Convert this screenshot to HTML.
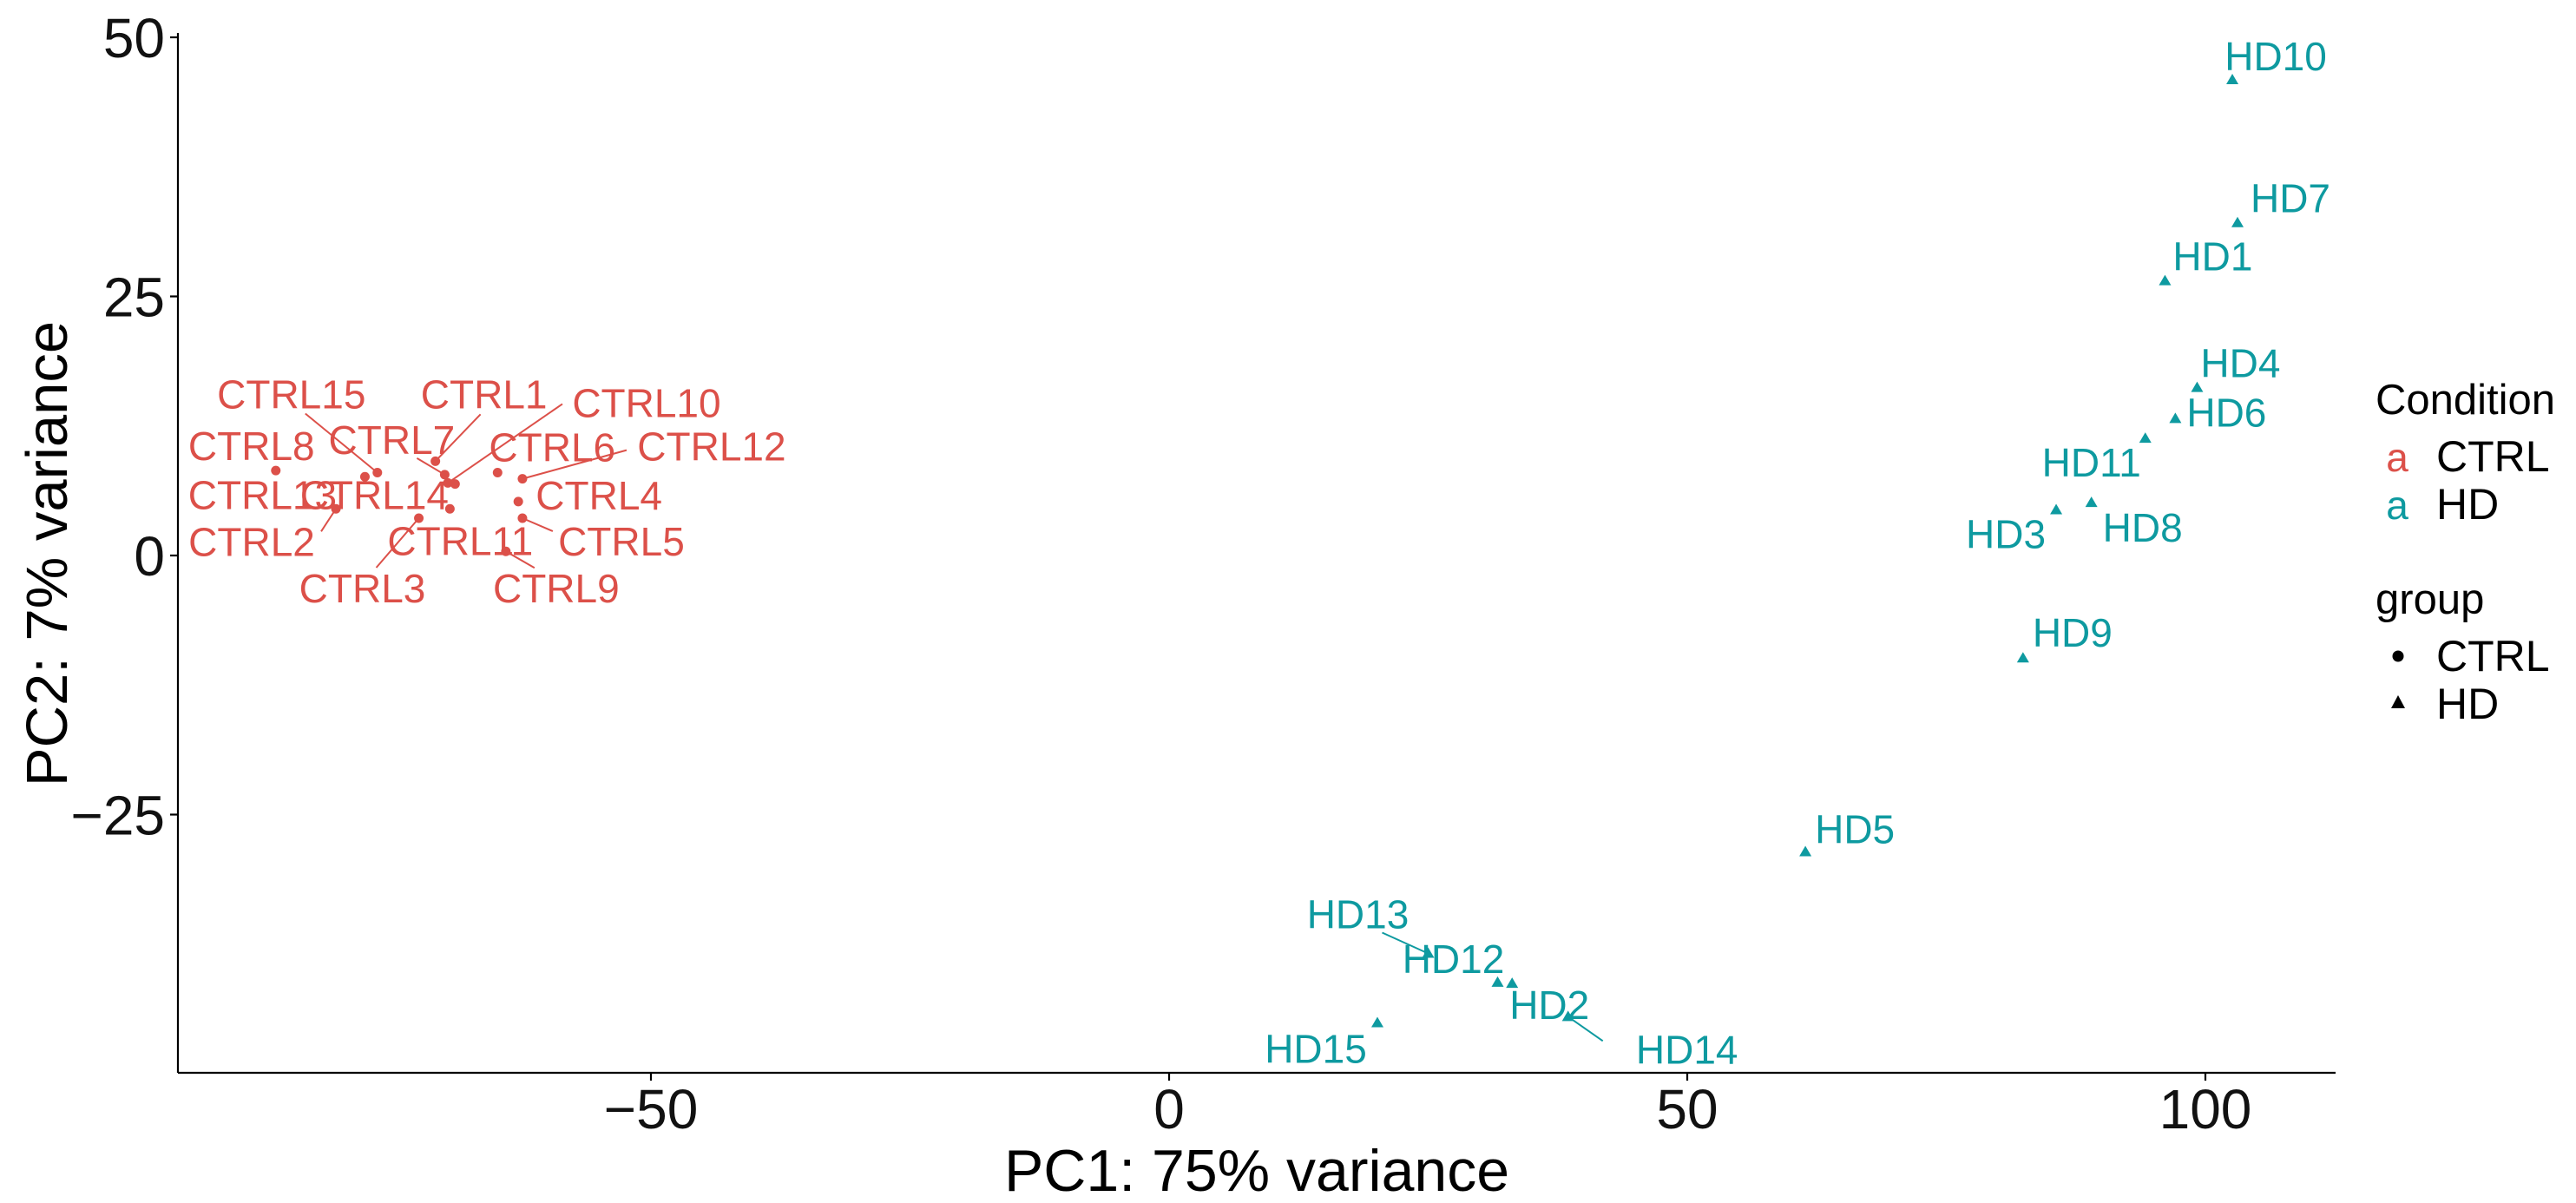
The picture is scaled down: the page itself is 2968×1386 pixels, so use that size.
<!DOCTYPE html>
<html><head><meta charset="utf-8">
<style>
html,body{margin:0;padding:0;background:#fff;}
svg{display:block;font-family:"Liberation Sans",Arial,sans-serif;}
</style></head>
<body>
<svg id="chart" width="2968" height="1386" viewBox="0 0 2968 1386" xmlns="http://www.w3.org/2000/svg">
  <rect width="2968" height="1386" fill="#fff"/>
  <g id="plot"></g>
  <g id="axes"></g>
  <text x="1448" y="1372" font-size="68" text-anchor="middle" fill="#000">PC1: 75% variance</text>
  <text x="0" y="0" font-size="67" text-anchor="middle" fill="#000" transform="translate(77,638) rotate(-90)">PC2: 7% variance</text>
  <g>
    <text x="2737" y="477" font-size="49" fill="#000">Condition</text>
    <text x="2762" y="543" font-size="46" text-anchor="middle" fill="#DC5049">a</text>
    <text x="2807" y="543" font-size="50" fill="#000">CTRL</text>
    <text x="2762" y="598" font-size="46" text-anchor="middle" fill="#0E9AA0">a</text>
    <text x="2807" y="598" font-size="50" fill="#000">HD</text>
  </g>
  <g>
    <text x="2737" y="707" font-size="49" fill="#000">group</text>
    <circle cx="2763" cy="756" r="6.5" fill="#000"/>
    <text x="2807" y="773" font-size="50" fill="#000">CTRL</text>
    <polygon points="2763,801 2771,816 2755,816" fill="#000"/>
    <text x="2807" y="828" font-size="50" fill="#000">HD</text>
  </g>
</svg>
<script>
// ---- data ----
const ctrlNames = ["CTRL1","CTRL2","CTRL3","CTRL4","CTRL5","CTRL6","CTRL7","CTRL8","CTRL9","CTRL10","CTRL11","CTRL12","CTRL13","CTRL14","CTRL15"];
const ctrlPC1 = [-70.8,-80.4,-72.4,-62.8,-62.4,-64.8,-69.9,-86.2,-64.0,-69.6,-68.9,-62.4,-77.6,-69.4,-76.4];
const ctrlPC2 = [9.1,4.5,3.6,5.2,3.6,8.0,7.8,8.2,0.4,7.0,6.9,7.4,7.6,4.5,8.0];
const hdNames = ["HD1","HD2","HD3","HD4","HD5","HD6","HD7","HD8","HD9","HD10","HD11","HD12","HD13","HD14","HD15"];
const hdPC1 = [96.1,33.1,85.6,99.2,61.4,97.1,103.1,89.0,82.4,102.6,94.2,31.7,25.0,38.5,20.1];
const hdPC2 = [26.5,-41.3,4.4,16.2,-28.6,13.2,32.1,5.1,-9.9,45.9,11.3,-41.2,-38.4,-44.5,-45.1];
const xTicks = [-50,0,50,100];
const yTicks = [-25,0,25,50];
const xTickLabels = ["\u221250","0","50","100"];
const yTickLabels = ["\u221225","0","25","50"];

// ---- label layout (pixel offsets from point, repel-style) ----
const ctrlLabelDx = [56,-97,-65,93,114,63,-61,-28,58,229,6,218,-118,-87,-99];
const ctrlLabelDy = [-61,54,97,9,43,-13,-24,-12,59,-76,82,-21,37,0,-74];
const ctrlSegDx = [52,-17,-49,0,35,0,-32,0,33,132,0,120,0,0,-83];
const ctrlSegDy = [-54,26,57,0,15,0,-19,0,19,-91,0,-33,0,0,-68];
const hdLabelDx = [55,43,-58,50,57,59,61,59,57,50,-62,-51,-81,137,-71];
const hdLabelDy = [-12,41,44,-12,-10,9,-12,45,-13,-11,44,-11,-29,54,46];
const hdSegDx = [0,0,0,0,0,0,0,0,0,0,0,0,-53,40,0];
const hdSegDy = [0,0,0,0,0,0,0,0,0,0,0,0,-24,28,0];

// ---- scales ----
const X0 = 1347, Y0 = 640, K = 11.94;
function sx(v){ return X0 + v*K; }
function sy(v){ return Y0 - v*K; }
const L = 205, R = 2691, T = 38, B = 1236;

const NS = "http://www.w3.org/2000/svg";
const plot = document.getElementById('plot');
const axes = document.getElementById('axes');
function mk(tag, attrs, parent){
  const e = document.createElementNS(NS, tag);
  for (const k in attrs) e.setAttribute(k, attrs[k]);
  parent.appendChild(e);
  return e;
}
const RED = "#DC5049", TEAL = "#0E9AA0";

// axes
let ax = mk('line', {x1:L, y1:B, x2:R, y2:B, stroke:"#000", "stroke-width":2.2}, axes);


let ay = mk('line', {x1:L, y1:T, x2:L, y2:B, stroke:"#000", "stroke-width":2.2}, axes);


xTicks.forEach((v,i)=>{
  const t = mk('line', {x1:sx(v), y1:B, x2:sx(v), y2:B+9, stroke:"#000", "stroke-width":2.2}, axes);
  
  
  const tx = mk('text', {x:sx(v), y:1300, "font-size":64, "text-anchor":"middle", fill:"#111"}, axes);
  
  
  tx.textContent = xTickLabels[i];
});
yTicks.forEach((v,i)=>{
  const t = mk('line', {x1:L-9, y1:sy(v), x2:L, y2:sy(v), stroke:"#000", "stroke-width":2.2}, axes);
  
  
  const tx = mk('text', {x:190, y:sy(v)+23, "font-size":64, "text-anchor":"end", fill:"#111"}, axes);
  
  
  tx.textContent = yTickLabels[i];
});

// points
function drawGroup(names, xs, ys, ldx, ldy, sdx, sdy, color, shape){
  names.forEach((n,i)=>{
    const px = sx(xs[i]), py = sy(ys[i]);
    if (sdx[i] !== 0 || sdy[i] !== 0){
      const s = mk('line', {x1:px, y1:py, x2:px+sdx[i], y2:py+sdy[i], stroke:color, "stroke-width":2}, plot);
      
      
    }
    let m;
    if (shape === 'circle'){
      m = mk('circle', {cx:px, cy:py, r:5.5, fill:color}, plot);
    } else {
      m = mk('polygon', {points:(px)+","+(py-7)+" "+(px+7)+","+(py+5)+" "+(px-7)+","+(py+5), fill:color}, plot);
    }
    
    
    const t = mk('text', {x:px+ldx[i], y:py+ldy[i], "font-size":46, "text-anchor":"middle", fill:color}, plot);
    
    
    t.textContent = n;
  });
}
drawGroup(ctrlNames, ctrlPC1, ctrlPC2, ctrlLabelDx, ctrlLabelDy, ctrlSegDx, ctrlSegDy, RED, 'circle');
drawGroup(hdNames, hdPC1, hdPC2, hdLabelDx, hdLabelDy, hdSegDx, hdSegDy, TEAL, 'triangle');
</script>
</body></html>
